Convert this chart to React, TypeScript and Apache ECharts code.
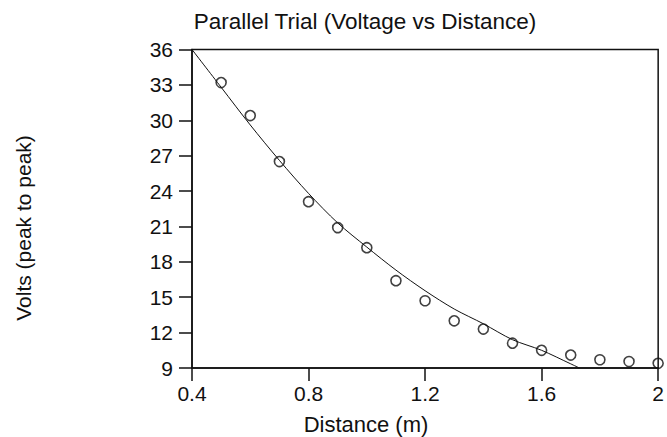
import React, { useEffect, useRef } from "react";
import * as echarts from "echarts";

const titleText = "Parallel Trial (Voltage vs Distance)";
const xName = "Distance (m)";
const yName = "Volts (peak to peak)";

// measured points
const distance = [0.5, 0.6, 0.7, 0.8, 0.9, 1.0, 1.1, 1.2, 1.3, 1.4, 1.5, 1.6, 1.7, 1.8, 1.9, 2.0];
const volts = [33.2, 30.4, 26.5, 23.1, 20.9, 19.2, 16.4, 14.7, 13.0, 12.3, 11.1, 10.5, 10.1, 9.7, 9.55, 9.4];

// fitted curve
const curveX = [0.4, 0.5, 0.6, 0.7, 0.8, 0.9, 1.0, 1.1, 1.2, 1.3, 1.4, 1.5, 1.6, 1.7, 1.73];
const curveY = [36, 32.8, 29.6, 26.6, 23.8, 21.3, 19.25, 17.3, 15.55, 14.0, 12.75, 11.4, 10.5, 9.35, 9.0];

const FONT = "'Liberation Sans', Arial, sans-serif";

export default function App() {
  const ref = useRef<HTMLDivElement>(null);
  useEffect(() => {
    if (!ref.current) return;
    const chart = echarts.init(ref.current, null, { renderer: "svg" });
    chart.setOption({
      animation: false,
      backgroundColor: "#fff",
      grid: {
        left: 192,
        top: 49.5,
        right: 1,
        bottom: 69,
        show: true,
        borderColor: "#111",
        borderWidth: 1.5,
        backgroundColor: "transparent",
      },
      xAxis: {
        type: "value",
        min: 0.4,
        max: 2.0,
        interval: 0.4,
        axisLine: { show: true, onZero: false, lineStyle: { color: "#111", width: 1.5 } },
        axisTick: { show: true, length: 13, lineStyle: { color: "#111", width: 1.5 } },
        axisLabel: {
          margin: 15,
          color: "#111",
          fontFamily: FONT,
          fontSize: 21,
          showMaxLabel: true,
          showMinLabel: true,
          alignMaxLabel: "center",
          alignMinLabel: "center",
        },
        splitLine: { show: false },
      },
      yAxis: {
        type: "value",
        min: 9,
        max: 36,
        interval: 3,
        axisLine: { show: true, onZero: false, lineStyle: { color: "#111", width: 1.5 } },
        axisTick: { show: true, length: 13, lineStyle: { color: "#111", width: 1.5 } },
        axisLabel: {
          margin: 19,
          color: "#111",
          fontFamily: FONT,
          fontSize: 21,
          showMaxLabel: true,
          showMinLabel: true,
        },
        splitLine: { show: false },
      },
      series: [
        {
          type: "line",
          data: curveX.map((x, i) => [x, curveY[i]]),
          showSymbol: false,
          symbol: "none",
          smooth: 0.3,
          lineStyle: { color: "#111", width: 1 },
          z: 2,
        },
        {
          type: "scatter",
          data: distance.map((x, i) => [x, volts[i]]),
          symbol: "circle",
          symbolSize: 10,
          clip: false,
          itemStyle: { color: "rgba(255,255,255,0)", borderColor: "#111", borderWidth: 1.6 },
          z: 3,
        },
      ],
      graphic: [
        {
          type: "text",
          x: 365,
          y: 21,
          style: {
            text: titleText,
            fontFamily: FONT,
            fontSize: 22.5,
            fill: "#111",
            align: "center",
            verticalAlign: "middle",
          },
        },
        {
          type: "text",
          x: 366,
          y: 424,
          style: {
            text: xName,
            fontFamily: FONT,
            fontSize: 22,
            fill: "#111",
            align: "center",
            verticalAlign: "middle",
          },
        },
        {
          type: "text",
          x: 23,
          y: 228,
          rotation: Math.PI / 2,
          style: {
            text: yName,
            fontFamily: FONT,
            fontSize: 21,
            fill: "#111",
            align: "center",
            verticalAlign: "middle",
          },
        },
      ],
    });
    return () => chart.dispose();
  }, []);
  return (
    <div
      ref={ref}
      style={{ position: "absolute", left: 0, top: 0, width: 667, height: 437 }}
    />
  );
}
